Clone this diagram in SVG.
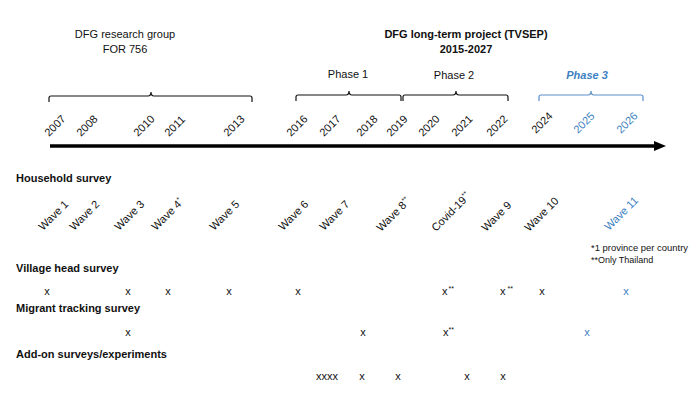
<svg xmlns="http://www.w3.org/2000/svg" width="700" height="394" viewBox="0 0 700 394">
<style>
text{font-family:"Liberation Sans",Arial,sans-serif;font-size:11px;fill:#111}
.b{font-weight:bold}
.blue{fill:#3d7fc1}
.sup{font-size:7px}
.br{fill:none;stroke:#111;stroke-width:1.2}
.brb{fill:none;stroke:#5a90c8;stroke-width:1.2}
.mk{text-anchor:middle}
.c{text-anchor:middle}
.fn{font-size:9px}
</style>
<rect width="700" height="394" fill="#fff"/>
<g id="titles">
<text class="c" x="125" y="38">DFG research group</text>
<text class="c" x="125" y="53">FOR 756</text>
<text class="c b" x="466" y="38">DFG long-term project (TVSEP)</text>
<text class="c b" x="466" y="53">2015-2027</text>
<text class="c" x="348" y="78">Phase 1</text>
<text class="c" x="454" y="79">Phase 2</text>
<text class="c b blue" x="587" y="79" font-style="italic">Phase 3</text>
</g>
<g id="braces">
<path class="br" d="M49,102 V98 Q49,96 51,96 H148 Q151,96 151,92 Q151,96 154,96 H250 Q252,96 252,98 V102"/>
<path class="br" d="M296,101 V97 Q296,95 298,95 H346 Q349,95 349,91 Q349,95 352,95 H399 Q401,95 401,97 V101"/>
<path class="br" d="M403,101 V97 Q403,95 405,95 H453 Q456,95 456,91 Q456,95 459,95 H506 Q508,95 508,97 V101"/>
<path class="brb" d="M539,101 V97 Q539,95 541,95 H588 Q591,95 591,91 Q591,95 594,95 H641 Q643,95 643,97 V101"/>
</g>
<g id="connectors">
<line x1="50" y1="146" x2="656" y2="146" stroke="#000" stroke-width="3.5"/>
<polygon points="654,141 666,146 654,151" fill="#000"/>
</g>
<g id="years">
<text transform="translate(49,137) rotate(-45)">2007</text>
<text transform="translate(81,137) rotate(-45)">2008</text>
<text transform="translate(138,137) rotate(-45)">2010</text>
<text transform="translate(169,137) rotate(-45)">2011</text>
<text transform="translate(228,137) rotate(-45)">2013</text>
<text transform="translate(291,137) rotate(-45)">2016</text>
<text transform="translate(324,137) rotate(-45)">2017</text>
<text transform="translate(361,137) rotate(-45)">2018</text>
<text transform="translate(391,137) rotate(-45)">2019</text>
<text transform="translate(423,137) rotate(-45)">2020</text>
<text transform="translate(456,137) rotate(-45)">2021</text>
<text transform="translate(491,137) rotate(-45)">2022</text>
<text transform="translate(536,134) rotate(-45)">2024</text>
<text class="blue" transform="translate(578,134) rotate(-45)">2025</text>
<text class="blue" transform="translate(621,134) rotate(-45)">2026</text>
</g>
<g id="household">
<text class="b" x="16" y="182">Household survey</text>
<text transform="translate(43,231) rotate(-45)">Wave 1</text>
<text transform="translate(74,231) rotate(-45)">Wave 2</text>
<text transform="translate(119,231) rotate(-45)">Wave 3</text>
<text transform="translate(156,231) rotate(-45)">Wave 4<tspan class="sup" dy="-4">*</tspan></text>
<text transform="translate(214,231) rotate(-45)">Wave 5</text>
<text transform="translate(283,231) rotate(-45)">Wave 6</text>
<text transform="translate(324,231) rotate(-45)">Wave 7</text>
<text transform="translate(381,232) rotate(-45)">Wave 8<tspan class="sup" dy="-4">**</tspan></text>
<text transform="translate(436,232) rotate(-45)">Covid-19<tspan class="sup" dy="-4">**</tspan></text>
<text transform="translate(486,232) rotate(-45)">Wave 9</text>
<text transform="translate(529,232) rotate(-45)">Wave 10</text>
<text class="blue" transform="translate(609,231) rotate(-45)">Wave 11</text>
<text class="fn" x="591" y="251" textLength="97" lengthAdjust="spacingAndGlyphs">*1 province per country</text>
<text class="fn" x="591" y="263">**Only Thailand</text>
</g>
<g id="village">
<text class="b" x="16" y="272">Village head survey</text>
<text class="mk" x="47" y="295">x</text>
<text class="mk" x="128" y="295">x</text>
<text class="mk" x="168" y="295">x</text>
<text class="mk" x="229" y="295">x</text>
<text class="mk" x="298" y="295">x</text>
<text x="442" y="295">x<tspan class="sup" dy="-4" dx="1">**</tspan></text>
<text x="500" y="295">x<tspan class="sup" dy="-4" dx="2">**</tspan></text>
<text class="mk" x="542" y="295">x</text>
<text class="mk blue" x="626" y="295">x</text>
</g>
<g id="migrant">
<text class="b" x="16" y="312">Migrant tracking survey</text>
<text class="mk" x="128" y="336">x</text>
<text class="mk" x="363" y="336">x</text>
<text x="443" y="336">x<tspan class="sup" dy="-4">**</tspan></text>
<text class="mk blue" x="587" y="336">x</text>
</g>
<g id="addon">
<text class="b" x="16" y="358">Add-on surveys/experiments</text>
<text class="mk" x="327" y="380">xxxx</text>
<text class="mk" x="362" y="380">x</text>
<text class="mk" x="398" y="380">x</text>
<text class="mk" x="467" y="380">x</text>
<text class="mk" x="503" y="380">x</text>
</g>
</svg>
